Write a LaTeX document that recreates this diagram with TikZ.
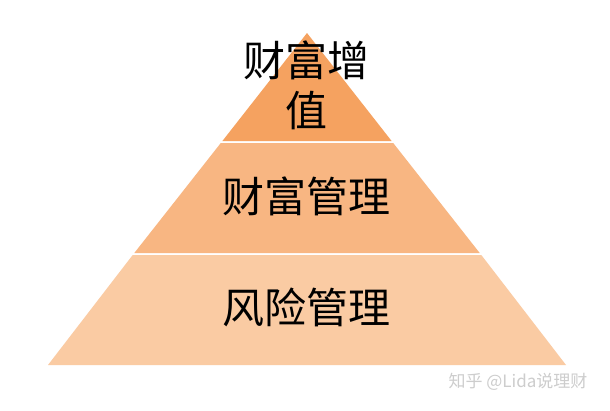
\documentclass[tikz,border=0pt]{standalone}
\usepackage{fontspec}
\newfontfamily\cjk{Noto Sans CJK SC}
\definecolor{topc}{RGB}{245,162,96}
\definecolor{midc}{RGB}{248,182,130}
\definecolor{botc}{RGB}{250,203,163}
\definecolor{wm}{RGB}{205,205,205}
\begin{document}
\begin{tikzpicture}[x=1pt,y=-1pt,
  lbl/.style={font=\cjk\fontsize{42}{50}\selectfont, text=black, inner sep=0pt, align=center},
  wmark/.style={font=\cjk\fontsize{17}{19}\selectfont, text=wm, inner sep=0pt}]
\useasboundingbox (0,0) rectangle (610,410);
\fill[white] (0,0) rectangle (610,410);
% apex (307,33), slope 0.783 px per px
\fill[topc] (307,33) -- (391.6,141) -- (222.4,141) -- cycle;
\fill[midc] (220.8,143) -- (393.2,143) -- (479.7,253) -- (134.3,253) -- cycle;
\fill[botc] (132.7,255) -- (481.3,255) -- (566,365) -- (48,365) -- cycle;
\node[lbl] (top) at (306,85) {财富增\\值};
\node[lbl] (mid) at (306,196) {财富管理};
\node[lbl] (bot) at (306,307) {风险管理};
\node[wmark] (wmk) at (518,382) {知乎 @Lida说理财};
\end{tikzpicture}
\end{document}
